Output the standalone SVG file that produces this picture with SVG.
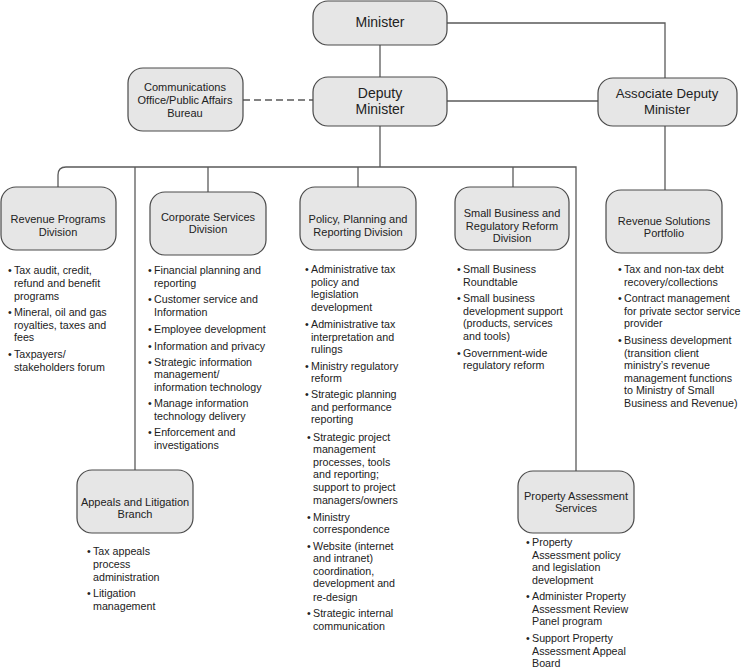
<svg xmlns="http://www.w3.org/2000/svg" width="745" height="670" viewBox="0 0 745 670">
<style>
.box{fill:#e6e6e6;stroke:#4a4a4a;stroke-width:1.2}
.ln{fill:none;stroke:#5a5a5a;stroke-width:1.3}
.dash{stroke-dasharray:7 4}
text{font-family:"Liberation Sans",Arial,sans-serif;fill:#222}
.t14{font-size:14px;text-anchor:middle}
.t13{font-size:13.2px;text-anchor:middle}
.t11{font-size:11px;text-anchor:middle}
.b{font-size:10.7px}
</style>
<rect width="745" height="670" fill="#fff"/>
<g id="connectors">
<path class="ln" d="M380,45 V77"/>
<path class="ln" d="M447,23 H665 V78"/>
<path class="ln" d="M447,101 H598"/>
<path class="ln dash" d="M243,100 H313"/>
<path class="ln" d="M380,126 V167"/>
<path class="ln" d="M58,187 V175 Q58,167 66,167 H576 V471"/>
<path class="ln" d="M135,167 V470"/>
<path class="ln" d="M208,167 V192"/>
<path class="ln" d="M358,167 V187"/>
<path class="ln" d="M513,167 V187"/>
<path class="ln" d="M665,126 V190"/>
</g>
<g id="minister">
<rect class="box" x="313" y="1" width="134" height="44" rx="15"/>
<text class="t14" x="380" y="27">Minister</text>
</g>
<g id="deputy-minister">
<rect class="box" x="313" y="77" width="134" height="49" rx="15"/>
<text class="t14" x="380" y="98">Deputy</text>
<text class="t14" x="380" y="114">Minister</text>
</g>
<g id="communications">
<rect class="box" x="128" y="68" width="115" height="63" rx="15"/>
<text class="t11" x="185" y="91">Communications</text>
<text class="t11" x="185" y="104">Office/Public Affairs</text>
<text class="t11" x="185" y="117">Bureau</text>
</g>
<g id="associate-deputy">
<rect class="box" x="598" y="78" width="139" height="48" rx="15"/>
<text class="t13" x="667" y="98">Associate Deputy</text>
<text class="t13" x="667" y="114">Minister</text>
</g>
<g id="revenue-programs">
<rect class="box" x="1" y="187" width="115" height="63" rx="15"/>
<text class="t11" x="58" y="223">Revenue Programs</text>
<text class="t11" x="58" y="236">Division</text>
<text class="b" x="8" y="274">•</text>
<text class="b" x="14" y="274">Tax audit, credit,</text>
<text class="b" x="14" y="287">refund and benefit</text>
<text class="b" x="14" y="300">programs</text>
<text class="b" x="8" y="316">•</text>
<text class="b" x="14" y="316">Mineral, oil and gas</text>
<text class="b" x="14" y="329">royalties, taxes and</text>
<text class="b" x="14" y="341">fees</text>
<text class="b" x="8" y="358">•</text>
<text class="b" x="14" y="358">Taxpayers/</text>
<text class="b" x="14" y="371">stakeholders forum</text>
</g>
<g id="corporate-services">
<rect class="box" x="150" y="192" width="116" height="63" rx="15"/>
<text class="t11" x="208" y="221">Corporate Services</text>
<text class="t11" x="208" y="233">Division</text>
<text class="b" x="148" y="274">•</text>
<text class="b" x="154" y="274">Financial planning and</text>
<text class="b" x="154" y="287">reporting</text>
<text class="b" x="148" y="303">•</text>
<text class="b" x="154" y="303">Customer service and</text>
<text class="b" x="154" y="316">Information</text>
<text class="b" x="148" y="333">•</text>
<text class="b" x="154" y="333">Employee development</text>
<text class="b" x="148" y="350">•</text>
<text class="b" x="154" y="350">Information and privacy</text>
<text class="b" x="148" y="366">•</text>
<text class="b" x="154" y="366">Strategic information</text>
<text class="b" x="154" y="378">management/</text>
<text class="b" x="154" y="391">information technology</text>
<text class="b" x="148" y="407">•</text>
<text class="b" x="154" y="407">Manage information</text>
<text class="b" x="154" y="420">technology delivery</text>
<text class="b" x="148" y="436">•</text>
<text class="b" x="154" y="436">Enforcement and</text>
<text class="b" x="154" y="449">investigations</text>
</g>
<g id="policy-planning">
<rect class="box" x="300" y="187" width="116" height="63" rx="15"/>
<text class="t11" x="358" y="223">Policy, Planning and</text>
<text class="t11" x="358" y="236">Reporting Division</text>
<text class="b" x="305" y="273">•</text>
<text class="b" x="311" y="273">Administrative tax</text>
<text class="b" x="311" y="286">policy and</text>
<text class="b" x="311" y="298">legislation</text>
<text class="b" x="311" y="311">development</text>
<text class="b" x="305" y="328">•</text>
<text class="b" x="311" y="328">Administrative tax</text>
<text class="b" x="311" y="341">interpretation and</text>
<text class="b" x="311" y="353">rulings</text>
<text class="b" x="305" y="370">•</text>
<text class="b" x="311" y="370">Ministry regulatory</text>
<text class="b" x="311" y="382">reform</text>
<text class="b" x="305" y="398">•</text>
<text class="b" x="311" y="398">Strategic planning</text>
<text class="b" x="311" y="411">and performance</text>
<text class="b" x="311" y="423">reporting</text>
<text class="b" x="307" y="441">•</text>
<text class="b" x="313" y="441">Strategic project</text>
<text class="b" x="313" y="453">management</text>
<text class="b" x="313" y="466">processes, tools</text>
<text class="b" x="313" y="478">and reporting;</text>
<text class="b" x="313" y="491">support to project</text>
<text class="b" x="313" y="504">managers/owners</text>
<text class="b" x="307" y="521">•</text>
<text class="b" x="313" y="521">Ministry</text>
<text class="b" x="313" y="533">correspondence</text>
<text class="b" x="307" y="550">•</text>
<text class="b" x="313" y="550">Website (internet</text>
<text class="b" x="313" y="562">and intranet)</text>
<text class="b" x="313" y="575">coordination,</text>
<text class="b" x="313" y="587">development and</text>
<text class="b" x="313" y="601">re-design</text>
<text class="b" x="307" y="617">•</text>
<text class="b" x="313" y="617">Strategic internal</text>
<text class="b" x="313" y="630">communication</text>
</g>
<g id="small-business">
<rect class="box" x="455" y="187" width="114" height="63" rx="15"/>
<text class="t11" x="512" y="217">Small Business and</text>
<text class="t11" x="512" y="230">Regulatory Reform</text>
<text class="t11" x="512" y="242">Division</text>
<text class="b" x="457" y="273">•</text>
<text class="b" x="463" y="273">Small Business</text>
<text class="b" x="463" y="286">Roundtable</text>
<text class="b" x="457" y="302">•</text>
<text class="b" x="463" y="302">Small business</text>
<text class="b" x="463" y="315">development support</text>
<text class="b" x="463" y="327">(products, services</text>
<text class="b" x="463" y="340">and tools)</text>
<text class="b" x="457" y="357">•</text>
<text class="b" x="463" y="357">Government-wide</text>
<text class="b" x="463" y="369">regulatory reform</text>
</g>
<g id="revenue-solutions">
<rect class="box" x="606" y="190" width="116" height="63" rx="15"/>
<text class="t11" x="664" y="225">Revenue Solutions</text>
<text class="t11" x="664" y="237">Portfolio</text>
<text class="b" x="618" y="273">•</text>
<text class="b" x="624" y="273">Tax and non-tax debt</text>
<text class="b" x="624" y="286">recovery/collections</text>
<text class="b" x="618" y="302">•</text>
<text class="b" x="624" y="302">Contract management</text>
<text class="b" x="624" y="315">for private sector service</text>
<text class="b" x="624" y="327">provider</text>
<text class="b" x="618" y="344">•</text>
<text class="b" x="624" y="344">Business development</text>
<text class="b" x="624" y="357">(transition client</text>
<text class="b" x="624" y="369">ministry’s revenue</text>
<text class="b" x="624" y="382">management functions</text>
<text class="b" x="624" y="394">to Ministry of Small</text>
<text class="b" x="624" y="407">Business and Revenue)</text>
</g>
<g id="appeals-litigation">
<rect class="box" x="77" y="470" width="116" height="63" rx="15"/>
<text class="t11" x="135" y="506">Appeals and Litigation</text>
<text class="t11" x="135" y="518">Branch</text>
<text class="b" x="87" y="555">•</text>
<text class="b" x="93" y="555">Tax appeals</text>
<text class="b" x="93" y="568">process</text>
<text class="b" x="93" y="581">administration</text>
<text class="b" x="87" y="597">•</text>
<text class="b" x="93" y="597">Litigation</text>
<text class="b" x="93" y="610">management</text>
</g>
<g id="property-assessment">
<rect class="box" x="518" y="471" width="116" height="62" rx="15"/>
<text class="t11" x="576" y="500">Property Assessment</text>
<text class="t11" x="576" y="512">Services</text>
<text class="b" x="526" y="546">•</text>
<text class="b" x="532" y="546">Property</text>
<text class="b" x="532" y="559">Assessment policy</text>
<text class="b" x="532" y="571">and legislation</text>
<text class="b" x="532" y="584">development</text>
<text class="b" x="526" y="600">•</text>
<text class="b" x="532" y="600">Administer Property</text>
<text class="b" x="532" y="613">Assessment Review</text>
<text class="b" x="532" y="625">Panel program</text>
<text class="b" x="526" y="642">•</text>
<text class="b" x="532" y="642">Support Property</text>
<text class="b" x="532" y="655">Assessment Appeal</text>
<text class="b" x="532" y="667">Board</text>
</g>
</svg>
